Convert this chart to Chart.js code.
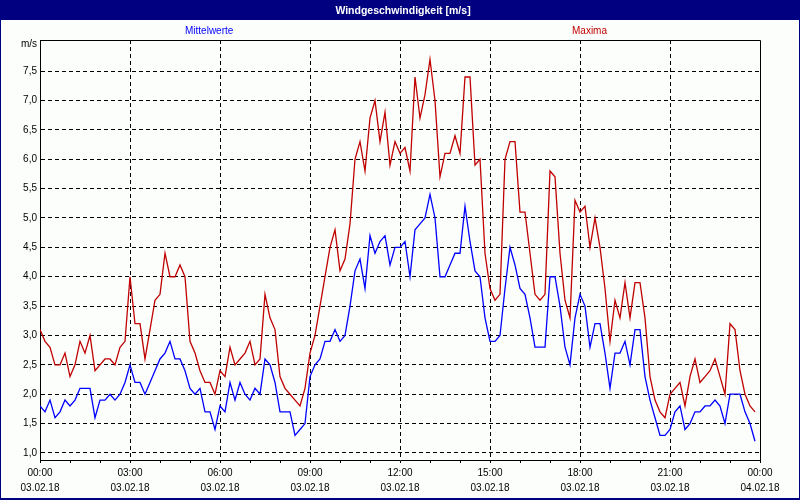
<!DOCTYPE html>
<html lang="de">
<head>
<meta charset="utf-8">
<title>Windgeschwindigkeit</title>
<script src="https://cdn.jsdelivr.net/npm/chart.js@4/dist/chart.umd.min.js"></script>
<style>
    html, body { margin: 0; padding: 0; background: #000080; }
    #wrap { position: relative; width: 800px; height: 500px; background: #000080; overflow: hidden; font-family: 'Liberation Sans', Arial, sans-serif; }
    #panel { position: absolute; left: 1px; top: 20px; width: 798px; height: 478px; background: #fcfefc; }
    #chart { position: absolute; left: 0; top: 0; }
    .txt { position: absolute; white-space: nowrap; font-size: 10px; line-height: 12px; }
    #title { left: 0; width: 806px; top: 0; line-height: 20px; text-align: center; color: #fff; font-weight: bold; font-size: 10.5px; }
    #lblMittel { left: 185px; top: 25px; color: #0000ff; }
    #lblMax { left: 572px; top: 25px; color: #c00000; }
    #unit { left: 0; width: 37px; top: 38px; text-align: right; color: #000; }
</style>
</head>
<body>
<div id="wrap">
    <div id="panel"></div>
    <canvas id="chart" width="800" height="500"></canvas>
    <div class="txt" id="title">Windgeschwindigkeit [m/s]</div>
    <div class="txt" id="lblMittel">Mittelwerte</div>
    <div class="txt" id="lblMax">Maxima</div>
    <div class="txt" id="unit">m/s</div>
</div>
<script>
// 10-minute values, 03.02.18 00:00 .. 23:50
const mittelwerte = [
    1.8, 1.7, 1.9, 1.6, 1.7, 1.9, 1.8, 1.9, 2.1, 2.1, 2.1, 1.6, 1.9, 1.9, 2.0, 1.9, 2.0, 2.2,
    2.5, 2.2, 2.2, 2.0, 2.2, 2.4, 2.6, 2.7, 2.9, 2.6, 2.6, 2.4, 2.1, 2.0, 2.1, 1.7, 1.7, 1.4,
    1.8, 1.7, 2.2, 1.9, 2.2, 2.0, 1.9, 2.1, 2.0, 2.6, 2.5, 2.2, 1.7, 1.7, 1.7, 1.3, 1.4, 1.5,
    2.3, 2.5, 2.6, 2.9, 2.9, 3.1, 2.9, 3.0, 3.5, 4.1, 4.3, 3.8, 4.7, 4.4, 4.6, 4.7, 4.2, 4.5,
    4.5, 4.6, 4.0, 4.8, 4.9, 5.0, 5.4, 5.0, 4.0, 4.0, 4.2, 4.4, 4.4, 5.2, 4.6, 4.1, 4.0, 3.3,
    2.9, 2.9, 3.0, 3.8, 4.5, 4.2, 3.8, 3.7, 3.3, 2.8, 2.8, 2.8, 4.0, 4.0, 3.5, 2.8, 2.5, 3.3,
    3.7, 3.5, 2.8, 3.2, 3.2, 2.7, 2.1, 2.7, 2.7, 2.9, 2.5, 3.1, 3.1, 2.3, 1.9, 1.6, 1.3, 1.3,
    1.4, 1.7, 1.8, 1.4, 1.5, 1.7, 1.7, 1.8, 1.8, 1.9, 1.8, 1.5, 2.0, 2.0, 2.0, 1.7, 1.5, 1.2
];
const maxima = [
    3.1, 2.9, 2.8, 2.5, 2.5, 2.7, 2.3, 2.5, 2.9, 2.7, 3.0, 2.4, 2.5, 2.6, 2.6, 2.5, 2.8, 2.9,
    4.0, 3.2, 3.2, 2.6, 3.1, 3.6, 3.7, 4.4, 4.0, 4.0, 4.2, 4.0, 2.9, 2.7, 2.4, 2.2, 2.2, 2.0,
    2.4, 2.3, 2.8, 2.5, 2.6, 2.7, 2.9, 2.5, 2.6, 3.7, 3.3, 3.1, 2.3, 2.1, 2.0, 1.9, 1.8, 2.1,
    2.7, 3.0, 3.5, 4.0, 4.5, 4.8, 4.1, 4.3, 4.9, 6.0, 6.3, 5.8, 6.7, 7.0, 6.3, 6.8, 5.9, 6.3,
    6.1, 6.2, 5.8, 7.4, 6.7, 7.1, 7.7, 7.0, 5.7, 6.1, 6.1, 6.4, 6.1, 7.4, 7.4, 5.9, 6.0, 4.4,
    3.8, 3.6, 3.7, 6.0, 6.3, 6.3, 5.1, 5.1, 4.4, 3.7, 3.6, 3.7, 5.8, 5.7, 4.4, 3.6, 3.3, 5.3,
    5.1, 5.2, 4.5, 5.0, 4.5, 3.8, 2.9, 3.6, 3.3, 3.9, 3.3, 3.9, 3.9, 3.3, 2.3, 1.9, 1.7, 1.6,
    2.0, 2.1, 2.2, 1.8, 2.3, 2.6, 2.2, 2.3, 2.4, 2.6, 2.3, 2.0, 3.2, 3.1, 2.4, 2.0, 1.8, 1.7
];
const timeLabels = ['00:00', '03:00', '06:00', '09:00', '12:00', '15:00', '18:00', '21:00', '00:00'];
const dateLabels = ['03.02.18', '03.02.18', '03.02.18', '03.02.18', '03.02.18', '03.02.18', '03.02.18', '03.02.18', '04.02.18'];
const yTickValues = [1.0, 1.5, 2.0, 2.5, 3.0, 3.5, 4.0, 4.5, 5.0, 5.5, 6.0, 6.5, 7.0, 7.5];

const STEPS_PER_HOUR = 6;
const STEPS_PER_LABEL = 18;
const tickFont = { family: "'Liberation Sans', Arial, sans-serif", size: 10, lineHeight: 1.5 };

function toPoints(values) {
    return values.map(function(v, i) { return { x: i, y: v }; });
}

// top and right edge of the plot box
const plotBox = {
    id: 'plotBox',
    afterDatasetsDraw: function(chart) {
        const a = chart.chartArea;
        const ctx = chart.ctx;
        ctx.save();
        ctx.strokeStyle = '#000';
        ctx.lineWidth = 1;
        ctx.beginPath();
        ctx.moveTo(Math.round(a.left) + 0.5, Math.round(a.top) + 0.5);
        ctx.lineTo(Math.round(a.right) + 0.5, Math.round(a.top) + 0.5);
        ctx.lineTo(Math.round(a.right) + 0.5, Math.round(a.bottom) + 0.5);
        ctx.stroke();
        ctx.restore();
    }
};

new Chart(document.getElementById('chart'), {
    type: 'line',
    data: {
        datasets: [{
            label: 'Maxima',
            data: toPoints(maxima),
            borderColor: '#c00000',
            borderWidth: 1.3,
            pointRadius: 0,
            tension: 0,
            fill: false
        }, {
            label: 'Mittelwerte',
            data: toPoints(mittelwerte),
            borderColor: '#0000ff',
            borderWidth: 1.3,
            pointRadius: 0,
            tension: 0,
            fill: false
        }]
    },
    options: {
        responsive: false,
        animation: false,
        events: [],
        layout: { padding: { left: 0, top: 40, right: 40, bottom: 0 } },
        plugins: {
            legend: { display: false },
            tooltip: { enabled: false }
        },
        scales: {
            x: {
                type: 'linear',
                min: 0,
                max: 144,
                afterFit: function(scale) { scale.height = 40; },
                border: { display: true, color: '#000', width: 1, dash: [4, 3] },
                grid: {
                    color: function(ctx) {
                        const v = ctx.tick ? ctx.tick.value : 0;
                        return (v % STEPS_PER_LABEL === 0 && v > 0 && v < 144) ? '#000' : 'rgba(0,0,0,0)';
                    },
                    lineWidth: 1,
                    drawTicks: true,
                    tickLength: 3,
                    tickColor: '#000',
                    tickBorderDash: []
                },
                ticks: {
                    stepSize: STEPS_PER_HOUR,
                    autoSkip: false,
                    maxRotation: 0,
                    padding: 3,
                    color: '#000',
                    font: tickFont,
                    callback: function(value) {
                        if (value % STEPS_PER_LABEL !== 0) return '';
                        const i = value / STEPS_PER_LABEL;
                        return [timeLabels[i], dateLabels[i]];
                    }
                }
            },
            y: {
                min: 0.88,
                max: 8.03,
                afterFit: function(scale) { scale.width = 40; },
                afterBuildTicks: function(scale) {
                    scale.ticks = yTickValues.map(function(v) { return { value: v }; });
                },
                border: { display: true, color: '#000', width: 1, dash: [4, 3] },
                grid: { color: '#000', lineWidth: 1, drawTicks: false },
                ticks: {
                    padding: 3,
                    color: '#000',
                    font: { family: "'Liberation Sans', Arial, sans-serif", size: 10 },
                    callback: function(value) {
                        return value.toFixed(1).replace('.', ',');
                    }
                }
            }
        }
    },
    plugins: [plotBox]
});
</script>
</body>
</html>
